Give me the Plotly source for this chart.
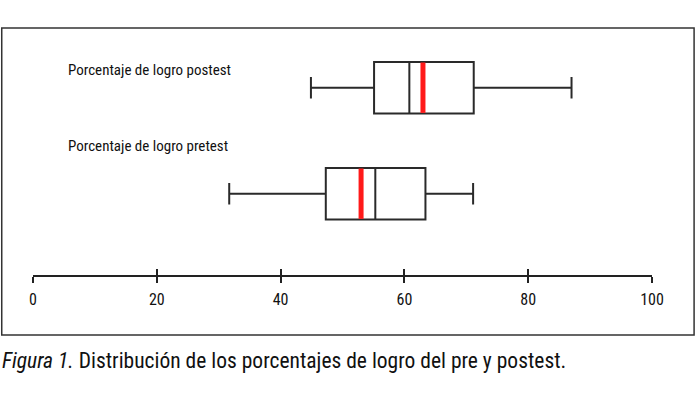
import plotly.graph_objects as go

categories = ["Porcentaje de logro pretest", "Porcentaje de logro postest"]
lower_whisker = [31.7, 44.9]
q1_values = [47.3, 55.1]
median_values = [55.3, 60.8]
q3_values = [63.4, 71.2]
upper_whisker = [71.1, 87.0]
mean_values = [53.0, 63.0]
tick_values = [0, 20, 40, 60, 80, 100]
caption_italic = "Figura 1."
caption_text = " Distribución de los porcentajes de logro del pre y postest."

FONT = "Liberation Sans Narrow, Roboto Condensed, Arial Narrow, Roboto, sans-serif"

fig = go.Figure()
for i, cat in enumerate(categories):
    fig.add_trace(go.Box(
        y=[i], orientation="h",
        q1=[q1_values[i]], median=[median_values[i]], q3=[q3_values[i]],
        lowerfence=[lower_whisker[i]], upperfence=[upper_whisker[i]],
        fillcolor="white", line=dict(color="#2a2a2a", width=2),
        width=0.486, whiskerwidth=0.42, boxpoints=False,
        showlegend=False, hoverinfo="skip",
    ))
fig.add_trace(go.Scatter(
    x=mean_values, y=list(range(len(categories))), mode="markers",
    marker=dict(symbol="line-ns", size=36, line=dict(color="#ff1a1a", width=5)),
    showlegend=False, hoverinfo="skip",
))
# second axis for ticks on the inside, so ticks cross the axis line
fig.add_trace(go.Scatter(x=[None], y=[None], xaxis="x2", showlegend=False))

for i, cat in enumerate(categories):
    fig.add_annotation(
        x=0.0533, xref="paper", y=i, yref="y", yshift=[48, 18][i],
        text=cat, showarrow=False, xanchor="left", yanchor="middle",
        font=dict(family=FONT, size=15, color="#111"),
    )

fig.add_annotation(
    x=-0.0533, xref="paper", y=-0.362, yref="paper",
    text=f"<i>{caption_italic}</i>{caption_text}", showarrow=False,
    xanchor="left", yanchor="middle",
    font=dict(family=FONT, size=21.5, color="#111"),
)

fig.add_shape(type="rect", xref="paper", yref="paper",
              x0=-0.0505, x1=1.068, y0=-0.255, y1=1.051,
              line=dict(color="#333", width=1.5))

fig.update_layout(
    width=696, height=396,
    margin=dict(l=33, r=44, t=40, b=121, autoexpand=False),
    paper_bgcolor="white", plot_bgcolor="white",
    font=dict(family=FONT, color="#111"),
    xaxis=dict(range=[0, 100], tickvals=tick_values, ticks="outside", ticklen=6,
               tickwidth=1.5, tickcolor="#222", showline=True, linecolor="#222",
               linewidth=1.5, showgrid=False, zeroline=False,
               tickfont=dict(family=FONT, size=16, color="#111"),
               ticklabelstandoff=3, fixedrange=True),
    xaxis2=dict(range=[0, 100], tickvals=tick_values, ticks="inside", ticklen=6,
                tickwidth=1.5, tickcolor="#222", overlaying="x", side="bottom",
                anchor="y", showticklabels=False, showgrid=False, zeroline=False,
                showline=False),
    yaxis=dict(range=[-0.767, 1.45], visible=False, showgrid=False, zeroline=False),
)

fig.write_html("out.html", config={"displayModeBar": False},
               post_script="document.body.style.margin='0';")
